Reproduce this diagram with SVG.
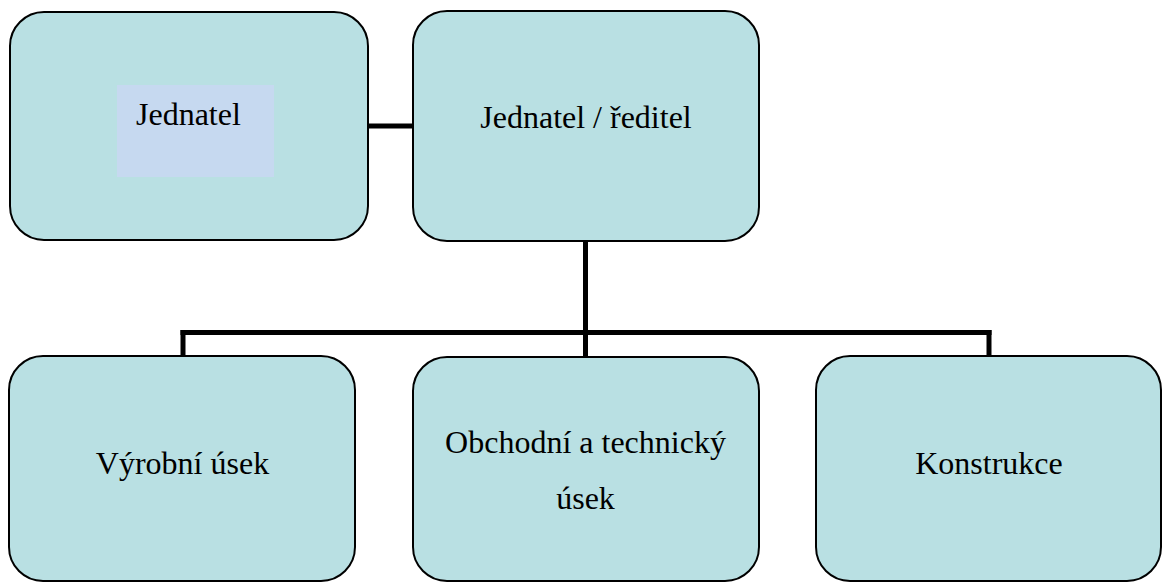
<svg xmlns="http://www.w3.org/2000/svg" width="1162" height="583" viewBox="0 0 1162 583">
<style>
.box{fill:#B9E0E3;stroke:#000;stroke-width:2}
.lbl{font-size:32px;fill:#000}
.c{text-anchor:middle}
.conn{stroke:#000;stroke-width:5;fill:none}
</style>
<rect width="1162" height="583" fill="#fff"/>
<g id="connectors">
<line class="conn" x1="368" y1="126" x2="413" y2="126"/>
<line class="conn" x1="585.5" y1="241" x2="585.5" y2="332.5"/>
<line class="conn" x1="180.5" y1="332.5" x2="991.5" y2="332.5"/>
<line class="conn" x1="183" y1="330" x2="183" y2="356"/>
<line class="conn" x1="585.5" y1="330" x2="585.5" y2="357"/>
<line class="conn" x1="989" y1="330" x2="989" y2="356"/>
</g>
<g font-family="Liberation Serif, Times New Roman, DejaVu Serif, serif">
<g id="node-jednatel">
<rect class="box" x="10" y="12" width="358" height="228" rx="34" ry="34"/>
<rect x="117" y="85" width="157" height="92" fill="#C6D9F0"/>
<text class="lbl" x="136" y="125">Jednatel</text>
</g>
<g id="node-reditel">
<rect class="box" x="413" y="11" width="346" height="230" rx="34" ry="34"/>
<text class="lbl c" x="586" y="128">Jednatel / ředitel</text>
</g>
<g id="node-vyrobni">
<rect class="box" x="9" y="356" width="346" height="225" rx="34" ry="34"/>
<text class="lbl c" x="182.5" y="474">Výrobní úsek</text>
</g>
<g id="node-obchodni">
<rect class="box" x="413" y="357" width="346" height="224" rx="34" ry="34"/>
<text class="lbl c" x="585.5" y="453">Obchodní a technický</text>
<text class="lbl c" x="585.5" y="509">úsek</text>
</g>
<g id="node-konstrukce">
<rect class="box" x="816" y="356" width="345" height="225" rx="34" ry="34"/>
<text class="lbl c" x="989" y="474">Konstrukce</text>
</g>
</g>
</svg>
